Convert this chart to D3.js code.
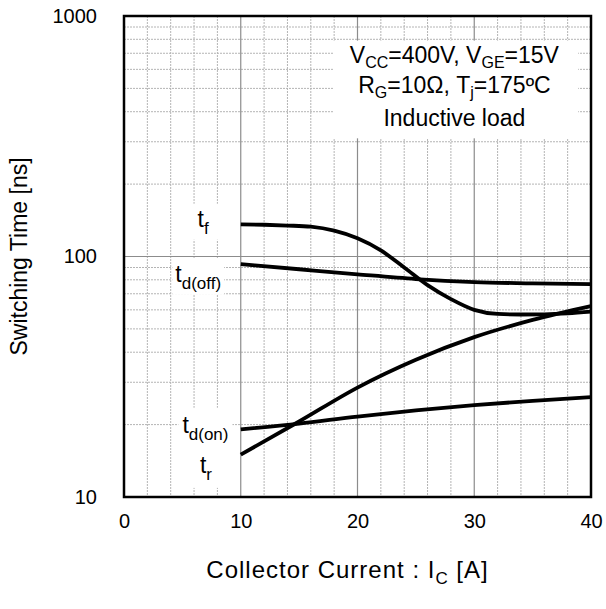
<!DOCTYPE html>
<html>
<head>
<meta charset="utf-8">
<script src="https://cdn.jsdelivr.net/npm/d3@7"></script>
<style>
  body { margin: 0; background: #fff; }
  svg { display: block; }
  text { font-family: "Liberation Sans", Arial, sans-serif; fill: #000; }
</style>
</head>
<body>
<div id="app"></div>
<script>
// collector current [A]
const current = [10, 15, 20, 25, 30, 35, 40];
const currentF = [10, 12, 14, 16, 18, 20, 22, 24, 26, 28, 30, 32, 34, 36, 38, 40];
// switching times [ns]
const tf = [136, 135.5, 134.5, 133, 128, 119, 106, 90, 76, 66.5, 60, 57.7, 57.4, 57.5, 58, 59];
const tdOff = [93, 88.5, 84.3, 80.6, 78.3, 77.3, 76.8];
const tr = [15, 20.6, 28.5, 37.2, 46.2, 54.5, 62.2];
const tdOn = [19.1, 20.2, 21.6, 22.9, 24.1, 25.1, 26.0];

const xTicks = [0, 10, 20, 30, 40];
const yTicks = [10, 100, 1000];

const series = [
  { name: 'tf', xs: currentF, values: tf },
  { name: 'tdOff', xs: current, values: tdOff },
  { name: 'tr', xs: current, values: tr },
  { name: 'tdOn', xs: current, values: tdOn },
];

const width = 606;
const height = 609;
const margin = { top: 16, right: 15, bottom: 112, left: 124 };
const plotW = width - margin.left - margin.right;
const plotH = height - margin.top - margin.bottom;
const fontStack = '"Liberation Sans", Arial, sans-serif';

const svg = d3.select('#app')
  .append('svg')
  .attr('width', width)
  .attr('height', height);

const g = svg.append('g')
  .attr('transform', `translate(${margin.left},${margin.top})`);

const x = d3.scaleLinear().domain([0, 40]).range([0, plotW]);
const y = d3.scaleLog().domain([10, 1000]).range([plotH, 0]);

// minor grid
const minorX = d3.range(2, 40, 2).filter(v => v % 10 !== 0);
const minorY = [];
[10, 100].forEach((dec) => {
  for (let k = 2; k <= 9; k += 1) minorY.push(dec * k);
});

const grid = g.append('g').attr('class', 'grid');
grid.selectAll('.minorX')
  .data(minorX)
  .enter()
  .append('line')
  .attr('x1', d => x(d))
  .attr('x2', d => x(d))
  .attr('y1', 0)
  .attr('y2', plotH)
  .attr('stroke', '#b4b4b4')
  .attr('stroke-width', 1)
  .attr('stroke-dasharray', '2,1');
grid.selectAll('.minorY')
  .data(minorY)
  .enter()
  .append('line')
  .attr('x1', 0)
  .attr('x2', plotW)
  .attr('y1', d => y(d))
  .attr('y2', d => y(d))
  .attr('stroke', '#b4b4b4')
  .attr('stroke-width', 1)
  .attr('stroke-dasharray', '2,1');
// major grid
grid.selectAll('.majorX')
  .data([10, 20, 30])
  .enter()
  .append('line')
  .attr('x1', d => x(d))
  .attr('x2', d => x(d))
  .attr('y1', 0)
  .attr('y2', plotH)
  .attr('stroke', '#8c8c8c')
  .attr('stroke-width', 1.2);
grid.selectAll('.majorY')
  .data([100])
  .enter()
  .append('line')
  .attr('x1', 0)
  .attr('x2', plotW)
  .attr('y1', d => y(d))
  .attr('y2', d => y(d))
  .attr('stroke', '#8c8c8c')
  .attr('stroke-width', 1.2);

// label helper: white box behind, main text + subscript
function addLabel(parent, px, py, main, sub, pad) {
  const lg = parent.append('g');
  const rect = lg.append('rect').attr('fill', '#fff');
  const t = lg.append('text')
    .attr('x', px)
    .attr('y', py)
    .attr('font-size', 23);
  t.append('tspan').text(main);
  if (sub) {
    t.append('tspan').attr('font-size', 17).attr('dy', 7).text(sub);
  }
  const bb = t.node().getBBox();
  rect.attr('x', bb.x - pad[0])
    .attr('y', bb.y - pad[1])
    .attr('width', bb.width + pad[0] * 2)
    .attr('height', bb.height + pad[1] * 2);
  return lg;
}

const labels = g.append('g').attr('class', 'labels');
addLabel(labels, x(6.3), y(133), 't', 'f', [14, 2]);
addLabel(labels, x(4.4), y(78.5), 't', 'd(off)', [3, 2]);
addLabel(labels, x(5.0), y(18.5), 't', 'd(on)', [4, 4]);
addLabel(labels, x(6.5), y(12.6), 't', 'r', [14, 4]);

// condition box
const condG = g.append('g');
condG.append('rect')
  .attr('x', x(17.9))
  .attr('y', y(790))
  .attr('width', x(38.9) - x(17.9))
  .attr('height', y(310) - y(790))
  .attr('fill', '#fff');
const cx = x(28.3);
function subLine(yy, parts) {
  const t = condG.append('text')
    .attr('x', cx)
    .attr('y', yy)
    .attr('text-anchor', 'middle')
    .attr('font-size', 23);
  parts.forEach((p, i) => {
    const sp = t.append('tspan').text(p);
    if (i % 2 === 1) sp.attr('font-size', 16).attr('dy', 5);
    else if (i > 0) sp.attr('dy', -5);
  });
}
subLine(y(640), ['V', 'CC', '=400V, V', 'GE', '=15V']);
subLine(y(480), ['R', 'G', '=10Ω, T', 'j', '=175ºC']);
condG.append('text').attr('x', cx).attr('y', y(350)).attr('text-anchor', 'middle').attr('font-size', 23)
  .text('Inductive load');

// curves
const line = d3.line()
  .x(d => x(d[0]))
  .y(d => y(d[1]))
  .curve(d3.curveMonotoneX);

g.selectAll('.curve')
  .data(series)
  .enter()
  .append('path')
  .attr('class', 'curve')
  .attr('d', d => line(d.xs.map((v, i) => [v, d.values[i]])))
  .attr('fill', 'none')
  .attr('stroke', '#000')
  .attr('stroke-width', 3.8)
  .attr('stroke-linecap', 'butt');

// frame
g.append('rect')
  .attr('width', plotW)
  .attr('height', plotH)
  .attr('fill', 'none')
  .attr('stroke', '#000')
  .attr('stroke-width', 2.5);

// axes
const xAxis = g.append('g')
  .attr('transform', `translate(0,${plotH})`)
  .call(d3.axisBottom(x).tickValues(xTicks).tickSize(0).tickPadding(17).tickFormat(d3.format('d')));
xAxis.select('.domain').remove();
xAxis.selectAll('text').attr('font-size', 20).attr('font-family', fontStack).attr('fill', '#000');

const yAxis = g.append('g')
  .call(d3.axisLeft(y).tickValues(yTicks).tickSize(0).tickPadding(27).tickFormat(d3.format('d')));
yAxis.select('.domain').remove();
yAxis.selectAll('text').attr('font-size', 20).attr('font-family', fontStack).attr('fill', '#000');

// axis titles
const xt = svg.append('text')
  .attr('x', margin.left + x(20) - 10)
  .attr('y', 578)
  .attr('text-anchor', 'middle')
  .attr('font-size', 24)
  .attr('letter-spacing', 1);
xt.append('tspan').text('Collector Current : I');
xt.append('tspan').attr('font-size', 17).attr('dy', 6).text('C');
xt.append('tspan').attr('dy', -6).text(' [A]');

svg.append('text')
  .attr('transform', `translate(27,${margin.top + plotH / 2}) rotate(-90)`)
  .attr('text-anchor', 'middle')
  .attr('font-size', 23)
  .text('Switching Time [ns]');
</script>
</body>
</html>
